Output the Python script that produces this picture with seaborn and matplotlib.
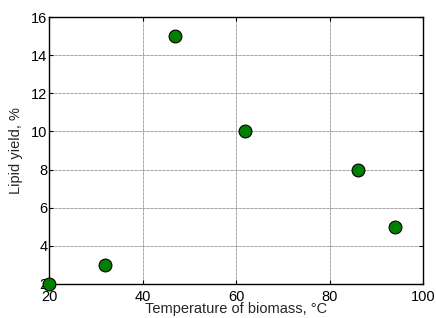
import matplotlib
matplotlib.use("Agg")
import matplotlib.pyplot as plt
import seaborn as sns
import pandas as pd

temperature = [20, 32, 47, 62, 86, 94]
lipid_yield = [2, 3, 15, 10, 8, 5]
x_ticks = [20, 40, 60, 80, 100]
y_ticks = [2, 4, 6, 8, 10, 12, 14, 16]

sns.set_style("white")
plt.rcParams['font.family'] = ['Liberation Sans', 'DejaVu Sans']

df = pd.DataFrame({"t": temperature, "y": lipid_yield})

fig = plt.figure(figsize=(4.36, 3.18), dpi=100)
ax = fig.add_axes([0.1124, 0.107, 0.858, 0.8395])
sns.scatterplot(data=df, x="t", y="y", ax=ax, color="#008000", edgecolor="black",
                linewidth=0.8, s=85, zorder=3, clip_on=False)
ax.set_xlim(20, 100)
ax.set_ylim(2, 16)
ax.set_xticks(x_ticks)
ax.set_yticks(y_ticks)
ax.grid(True, color="#777777", linestyle=(0, (1, 0.6)), linewidth=0.6)
ax.set_axisbelow(True)
for s in ax.spines.values():
    s.set_color("black")
    s.set_linewidth(1.0)
ax.tick_params(direction="in", length=3, width=0.8, labelsize=10.5, pad=1,
               top=True, right=True, bottom=True, left=True, colors="black")
ax.tick_params(axis="x", pad=4)
ax.set_xlabel("Temperature of biomass, °C", fontsize=10.5, labelpad=-1)
ax.set_ylabel("Lipid yield, %", fontsize=10.5, labelpad=6)
fig.savefig("out.png", dpi=100)
